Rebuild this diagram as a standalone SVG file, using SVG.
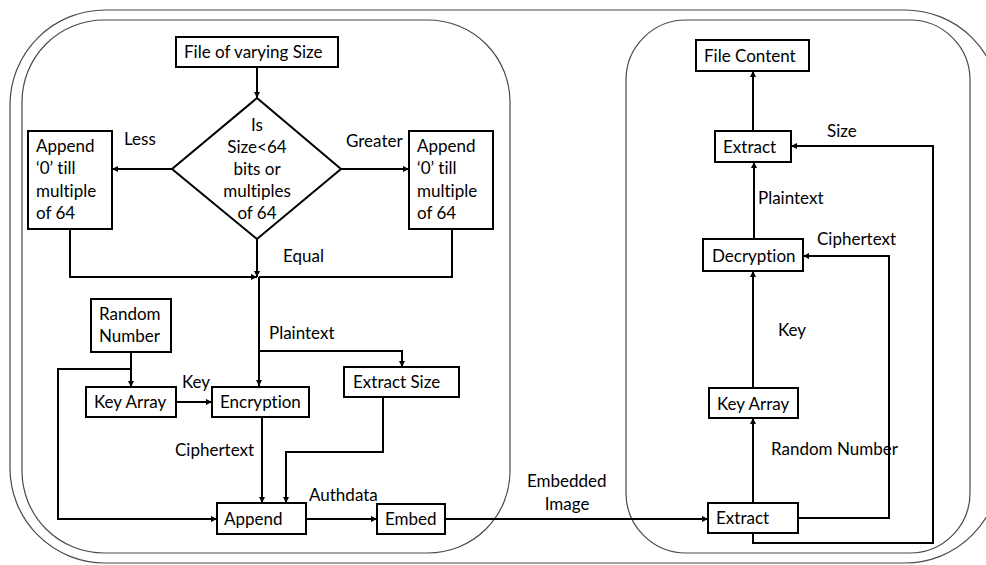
<svg xmlns="http://www.w3.org/2000/svg" width="986" height="565" viewBox="0 0 986 565">
  <style>
    .panel { fill: none; stroke: #4a4a4a; stroke-width: 1.2; }
    .box { fill: #ffffff; stroke: #000000; stroke-width: 2; }
    .wire { fill: none; stroke: #000000; stroke-width: 2; }
    .arrow { marker-end: url(#head); }
    text { font-family: Lato, "Open Sans", sans-serif; font-size: 17px; fill: #000000; font-variant-ligatures: none; }
    .mid { text-anchor: middle; }
  </style>
  <defs>
    <marker id="head" markerUnits="userSpaceOnUse" markerWidth="7" markerHeight="7" refX="6" refY="3" orient="auto">
      <path d="M0,0 L6,3 L0,6 z" fill="#000000"/>
    </marker>
  </defs>

  <!-- frames: outer border, encoder side, decoder side -->
  <rect class="panel" x="10" y="10" width="990" height="553" rx="95" ry="95"/>
  <rect class="panel" x="22" y="20" width="488" height="533" rx="82" ry="82"/>
  <rect class="panel" x="626" y="20" width="344" height="533" rx="60" ry="60"/>

  <!-- connectors -->
  <g id="connectors">
    <path class="wire arrow" d="M257,67 V98"/>
    <path class="wire arrow" d="M172,169 H112"/>
    <path class="wire arrow" d="M341,169 H409"/>
    <path class="wire arrow" d="M70,229 V277 H257"/>
    <path class="wire" d="M452,229 V277 H259"/>
    <path class="wire arrow" d="M257,239 V277"/>
    <path class="wire arrow" d="M259,277 V386"/>
    <path class="wire arrow" d="M259,351 H402 V367"/>
    <path class="wire arrow" d="M131,352 V387"/>
    <path class="wire arrow" d="M131,369 H58 V519 H217"/>
    <path class="wire arrow" d="M176,402 H212"/>
    <path class="wire arrow" d="M262,417 V503"/>
    <path class="wire arrow" d="M383,397 V452 H286 V503"/>
    <path class="wire arrow" d="M306,519 H377"/>
    <path class="wire arrow" d="M445,519 H708"/>
    <path class="wire arrow" d="M753,503 V418"/>
    <path class="wire arrow" d="M753,388 V271"/>
    <path class="wire arrow" d="M754,239 V162"/>
    <path class="wire arrow" d="M753,131 V71"/>
    <path class="wire arrow" d="M798,518 H889 V256 H803"/>
    <path class="wire arrow" d="M753,533 V543 H933 V146 H791"/>
  </g>

  <!-- connector labels -->
  <g id="labels">
    <text x="124" y="145">Less</text>
    <text x="346" y="147">Greater</text>
    <text x="283" y="262">Equal</text>
    <text x="269" y="339">Plaintext</text>
    <text x="182" y="388">Key</text>
    <text x="175" y="456">Ciphertext</text>
    <text x="309" y="501">Authdata</text>
    <text x="527" y="487">Embedded</text>
    <text x="567" y="510" class="mid">Image</text>
    <text x="827" y="137">Size</text>
    <text x="758" y="204">Plaintext</text>
    <text x="817" y="245">Ciphertext</text>
    <text x="778" y="336">Key</text>
    <text x="771" y="455">Random Number</text>
  </g>

  <!-- encoder nodes -->
  <g id="file-input">
    <rect class="box" x="176" y="37" width="162" height="30"/>
    <text x="184" y="58">File of varying Size</text>
  </g>
  <g id="size-check">
    <path class="box" d="M257,98 L341,169 L257,239 L172,169 z"/>
    <text class="mid" x="257" y="131">Is</text>
    <text class="mid" x="257" y="153">Size&lt;64</text>
    <text class="mid" x="257" y="175">bits or</text>
    <text class="mid" x="257" y="197">multiples</text>
    <text class="mid" x="257" y="219">of 64</text>
  </g>
  <g id="pad-less">
    <rect class="box" x="28" y="131" width="84" height="98"/>
    <text x="36" y="152">Append</text>
    <text x="36" y="174">‘0’ till</text>
    <text x="36" y="197">multiple</text>
    <text x="36" y="219">of 64</text>
  </g>
  <g id="pad-greater">
    <rect class="box" x="409" y="131" width="84" height="98"/>
    <text x="417" y="152">Append</text>
    <text x="417" y="174">‘0’ till</text>
    <text x="417" y="197">multiple</text>
    <text x="417" y="219">of 64</text>
  </g>
  <g id="random-number">
    <rect class="box" x="91" y="299" width="80" height="53"/>
    <text x="99" y="320">Random</text>
    <text x="99" y="342">Number</text>
  </g>
  <g id="key-array-enc">
    <rect class="box" x="86" y="387" width="90" height="30"/>
    <text x="94" y="408">Key Array</text>
  </g>
  <g id="encryption">
    <rect class="box" x="212" y="387" width="97" height="30"/>
    <text x="220" y="408">Encryption</text>
  </g>
  <g id="extract-size">
    <rect class="box" x="344" y="367" width="115" height="30"/>
    <text x="353" y="388">Extract Size</text>
  </g>
  <g id="append">
    <rect class="box" x="217" y="503" width="89" height="31"/>
    <text x="224" y="525">Append</text>
  </g>
  <g id="embed">
    <rect class="box" x="377" y="504" width="68" height="30"/>
    <text x="385" y="525">Embed</text>
  </g>

  <!-- decoder nodes -->
  <g id="file-content">
    <rect class="box" x="696" y="40" width="113" height="31"/>
    <text x="704" y="62">File Content</text>
  </g>
  <g id="extract-content">
    <rect class="box" x="715" y="131" width="76" height="31"/>
    <text x="723" y="153">Extract</text>
  </g>
  <g id="decryption">
    <rect class="box" x="703" y="239" width="100" height="32"/>
    <text x="712" y="262">Decryption</text>
  </g>
  <g id="key-array-dec">
    <rect class="box" x="709" y="388" width="89" height="30"/>
    <text x="717" y="410">Key Array</text>
  </g>
  <g id="extract-embedded">
    <rect class="box" x="708" y="503" width="90" height="30"/>
    <text x="716" y="524">Extract</text>
  </g>
</svg>
